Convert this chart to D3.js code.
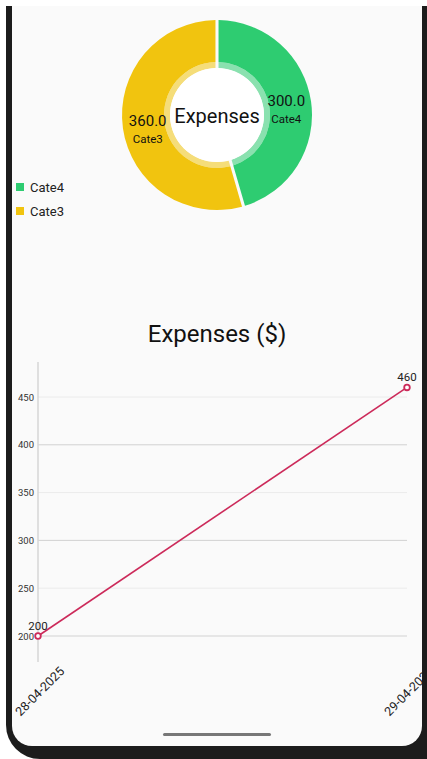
<!DOCTYPE html>
<html>
<head>
<meta charset="utf-8">
<script src="https://cdn.jsdelivr.net/npm/d3@7"></script>
<style>
    html, body { margin: 0; padding: 0; background: #ffffff; }
    svg { display: block; font-family: Roboto, "Noto Sans", sans-serif; }
</style>
</head>
<body>
<script>
// donut data
const pieCategories = ["Cate4", "Cate3"];
const pieValues = [300, 360];
const pieColours = ["#2ecc71", "#f1c40f"];

// line data
const lineDates = ["28-04-2025", "29-04-2025"];
const lineValues = [200, 460];
const yTicks = [200, 250, 300, 350, 400, 450];

const W = 427, H = 759;

const svg = d3.select("body").append("svg")
    .attr("width", W)
    .attr("height", H);

// phone frame
svg.append("rect")
    .attr("x", 6).attr("y", 6)
    .attr("width", W + 30).attr("height", H - 6 + 0)
    .attr("rx", 34)
    .attr("fill", "#1c1c1c");
svg.append("rect")
    .attr("x", 6).attr("y", -40)
    .attr("width", W + 30).attr("height", 80)
    .attr("fill", "#1c1c1c");
svg.append("rect")
    .attr("x", 12).attr("y", 6)
    .attr("width", 410).attr("height", 740)
    .attr("rx", 20)
    .attr("fill", "#fafafa");
svg.append("rect")
    .attr("x", 12).attr("y", 6)
    .attr("width", 410).attr("height", 60)
    .attr("fill", "#fafafa");
svg.append("rect")
    .attr("x", 0).attr("y", 0)
    .attr("width", W).attr("height", 6)
    .attr("fill", "#ffffff");
svg.append("rect")
    .attr("x", 163).attr("y", 733)
    .attr("width", 108).attr("height", 3)
    .attr("rx", 1.5)
    .attr("fill", "#777777");

const screen = svg.append("g");

// ---- donut ----
const cx = 217, cy = 115,
    outerR = 95, midR = 53, innerR = 47;

const pie = d3.pie().sort(null).padAngle(0.032)(pieValues);

const arc = d3.arc().innerRadius(midR).outerRadius(outerR).padRadius(96);
const ringArc = d3.arc().innerRadius(innerR).outerRadius(midR).padRadius(96);
const labelArc = d3.arc().innerRadius(70).outerRadius(70);

const donut = screen.append("g")
    .attr("transform", `translate(${cx},${cy})`);

donut.selectAll("path.slice")
    .data(pie)
    .enter()
    .append("path")
    .attr("class", "slice")
    .attr("d", arc)
    .attr("fill", (d, i) => pieColours[i]);

donut.selectAll("path.ring")
    .data(pie)
    .enter()
    .append("path")
    .attr("class", "ring")
    .attr("d", ringArc)
    .attr("fill", (d, i) => pieColours[i])
    .attr("opacity", 0.55);

donut.append("circle")
    .attr("r", innerR)
    .attr("fill", "#ffffff");

donut.append("text")
    .attr("y", 8)
    .attr("text-anchor", "middle")
    .attr("font-size", 20)
    .attr("fill", "#111")
    .text("Expenses");

const labels = donut.selectAll("g.lbl")
    .data(pie)
    .enter()
    .append("g")
    .attr("class", "lbl")
    .attr("transform", d => {
        const c = labelArc.centroid(d);
        return `translate(${c[0]},${c[1]})`;
    });
labels.append("text")
    .attr("y", 1)
    .attr("text-anchor", "middle")
    .attr("font-size", 15)
    .attr("fill", "#111")
    .text(d => d.value.toFixed(1));
labels.append("text")
    .attr("y", 18)
    .attr("text-anchor", "middle")
    .attr("font-size", 11.5)
    .attr("fill", "#111")
    .text((d, i) => pieCategories[i]);

// legend
const legend = screen.selectAll("g.legend")
    .data(pieCategories)
    .enter()
    .append("g")
    .attr("class", "legend")
    .attr("transform", (d, i) => `translate(16,${183 + i * 24})`);
legend.append("rect")
    .attr("width", 8).attr("height", 8)
    .attr("fill", (d, i) => pieColours[i]);
legend.append("text")
    .attr("x", 14).attr("y", 8.5)
    .attr("font-size", 13)
    .attr("fill", "#222")
    .text(d => d);

// ---- line chart ----
screen.append("text")
    .attr("x", 217).attr("y", 342)
    .attr("text-anchor", "middle")
    .attr("font-size", 24)
    .attr("fill", "#111")
    .text("Expenses ($)");

const plotLeft = 38, plotRight = 407, plotTop = 362, plotBottom = 662;

const x = d3.scalePoint()
    .domain(lineDates)
    .range([plotLeft, plotRight]);
const y = d3.scaleLinear()
    .domain([172.8, 486.6])
    .range([plotBottom, plotTop]);

const grid = screen.append("g");
grid.selectAll("line")
    .data(yTicks)
    .enter()
    .append("line")
    .attr("x1", plotLeft).attr("x2", plotRight)
    .attr("y1", d => y(d)).attr("y2", d => y(d))
    .attr("stroke", d => (d % 100 === 0) ? "#d2d2d2" : "#ebebeb")
    .attr("stroke-width", 1);

const yAxis = screen.append("g")
    .attr("transform", `translate(${plotLeft},0)`)
    .call(d3.axisLeft(y).tickValues(yTicks).tickSize(0).tickPadding(4));
yAxis.select(".domain").remove();
yAxis.selectAll("text")
    .attr("font-family", "Roboto, sans-serif")
    .attr("font-size", 9.5)
    .attr("fill", "#333");

screen.append("line")
    .attr("x1", plotLeft).attr("x2", plotLeft)
    .attr("y1", plotTop).attr("y2", plotBottom)
    .attr("stroke", "#d6d6d6")
    .attr("stroke-width", 1.5);

const xAxis = screen.append("g")
    .attr("transform", `translate(0,${plotBottom})`)
    .call(d3.axisBottom(x).tickSize(0).tickPadding(0));
xAxis.select(".domain").remove();
xAxis.selectAll("text")
    .attr("font-family", "Roboto, sans-serif")
    .attr("font-size", 12.5)
    .attr("fill", "#222")
    .attr("text-anchor", "middle")
    .attr("dy", null)
    .attr("y", 0)
    .attr("transform", "translate(2,30) rotate(-45)")
    .attr("dominant-baseline", "middle");

const points = lineDates.map((d, i) => [x(d), y(lineValues[i])]);

screen.append("path")
    .attr("d", d3.line()(points))
    .attr("fill", "none")
    .attr("stroke", "#cc2a5a")
    .attr("stroke-width", 1.6);

screen.selectAll("circle.pt")
    .data(points)
    .enter()
    .append("circle")
    .attr("class", "pt")
    .attr("cx", d => d[0]).attr("cy", d => d[1])
    .attr("r", 2.8)
    .attr("fill", "#ffffff")
    .attr("stroke", "#cc2a5a")
    .attr("stroke-width", 1.8);

screen.selectAll("text.val")
    .data(lineValues)
    .enter()
    .append("text")
    .attr("class", "val")
    .attr("x", (d, i) => x(lineDates[i]))
    .attr("y", d => y(d) - 6)
    .attr("text-anchor", "middle")
    .attr("font-size", 11.5)
    .attr("fill", "#222")
    .text(d => d);

// right bezel over clipped labels
svg.append("rect")
    .attr("x", 422).attr("y", 6)
    .attr("width", 5).attr("height", H)
    .attr("fill", "#1c1c1c");
</script>
</body>
</html>
